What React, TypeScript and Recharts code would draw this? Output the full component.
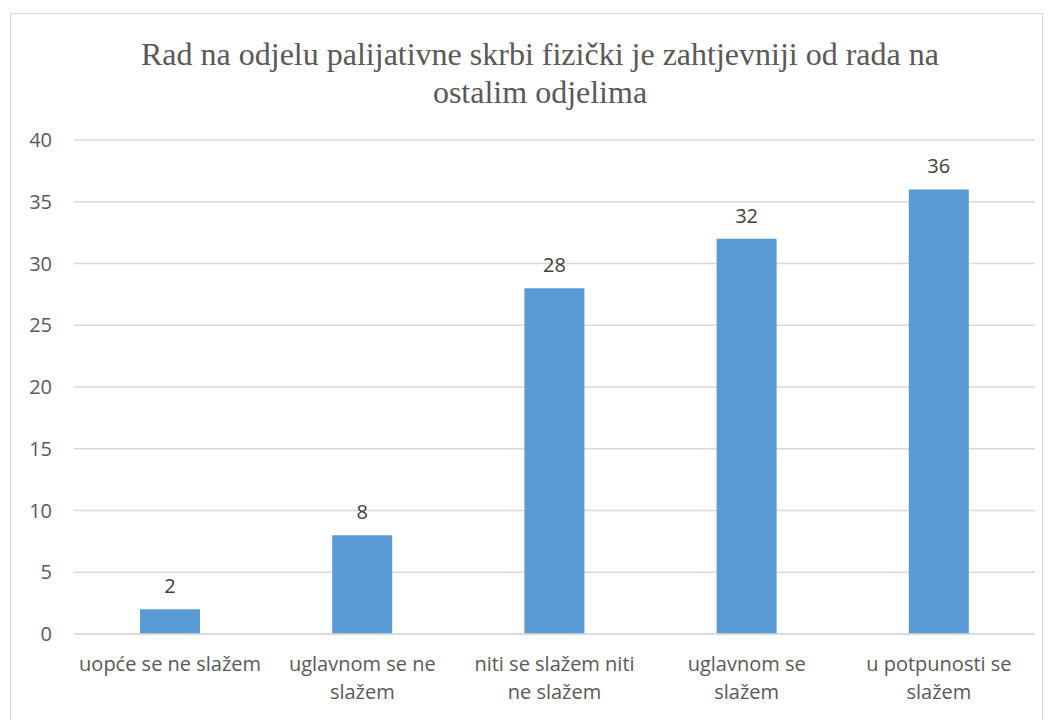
import { Bar, BarChart, CartesianGrid, LabelList, XAxis, YAxis } from "recharts";

const categories = [
  "uopće se ne slažem",
  "uglavnom se ne slažem",
  "niti se slažem niti ne slažem",
  "uglavnom se slažem",
  "u potpunosti se slažem",
];
const tickLines = [
  ["uopće se ne slažem"],
  ["uglavnom se ne", "slažem"],
  ["niti se slažem niti", "ne slažem"],
  ["uglavnom se", "slažem"],
  ["u potpunosti se", "slažem"],
];
const values = [2, 8, 28, 32, 36];
const yTicks = [0, 5, 10, 15, 20, 25, 30, 35, 40];

const data = categories.map((c, i) => ({ name: c, value: values[i], idx: i }));

const FONT = "'Open Sans', 'Noto Sans', sans-serif";
const GREY = "#595959";

function XTick(props: any) {
  const { x, y, index } = props;
  const lines = tickLines[index] ?? [String(props.payload?.value)];
  return (
    <text x={x} y={y} textAnchor="middle" fill={GREY} fontSize={20} fontFamily={FONT}>
      {lines.map((l, i) => (
        <tspan key={i} x={x} dy={i === 0 ? 29 : 28}>
          {l}
        </tspan>
      ))}
    </text>
  );
}

export default function App() {
  return (
    <div style={{ position: "absolute", left: 0, top: 0, width: 1051, height: 720, background: "#fff", overflow: "hidden" }}>
      <div
        style={{
          position: "absolute",
          left: 10,
          top: 13,
          width: 1033,
          height: 720,
          border: "1px solid #d9d9d9",
          boxSizing: "border-box",
        }}
      />
      <div
        style={{
          position: "absolute",
          left: 90,
          width: 900,
          top: 35,
          textAlign: "center",
          fontFamily: "'Liberation Serif', serif",
          fontSize: 32,
          lineHeight: "38px",
          color: GREY,
        }}
      >
        Rad na odjelu palijativne skrbi fizički je zahtjevniji od rada na
        <br />
        ostalim odjelima
      </div>
      <div style={{ position: "absolute", left: 0, top: 0 }}>
        <BarChart
          width={1051}
          height={720}
          data={data}
          margin={{ top: 140, right: 16, left: 14, bottom: 6 }}
          barSize={60}
        >
          <CartesianGrid vertical={false} stroke="#d9d9d9" strokeWidth={1.5} />
          <XAxis
            dataKey="name"
            axisLine={{ stroke: "#d9d9d9", strokeWidth: 1.5 }}
            tickLine={false}
            interval={0}
            height={80}
            tick={<XTick />}
          />
          <YAxis
            domain={[0, 40]}
            ticks={yTicks}
            width={60}
            axisLine={false}
            tickLine={false}
            tickSize={0}
            tickMargin={22}
            tick={{ fill: GREY, fontSize: 20, fontFamily: FONT }}
          />
          <Bar dataKey="value" fill="#5b9bd5" isAnimationActive={false}>
            <LabelList
              dataKey="value"
              position="top"
              offset={16}
              fill="#404040"
              fontSize={20}
              fontFamily={FONT}
            />
          </Bar>
        </BarChart>
      </div>
    </div>
  );
}
